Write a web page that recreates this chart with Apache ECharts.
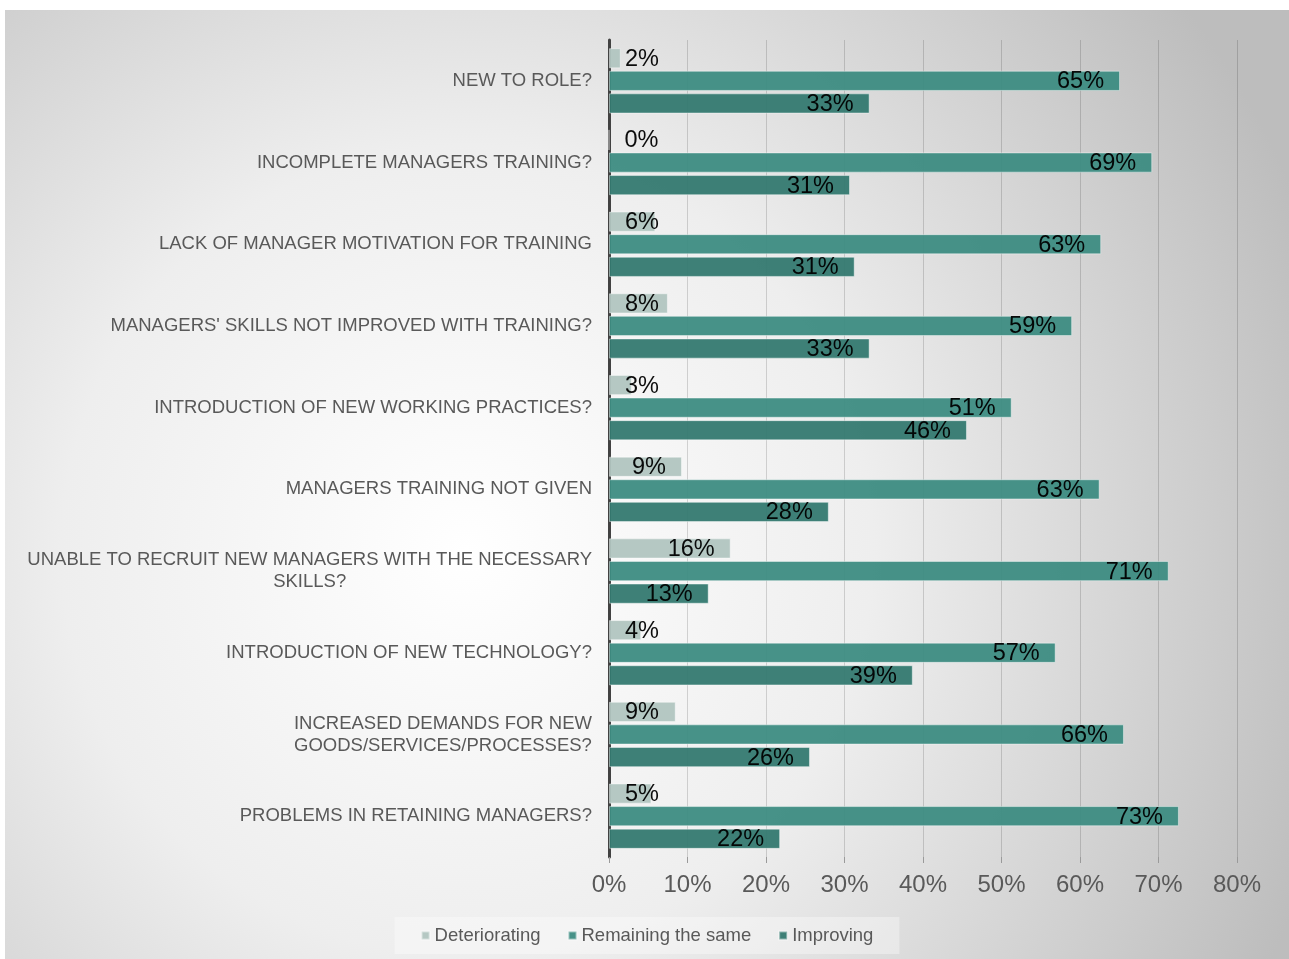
<!DOCTYPE html>
<html>
<head>
<meta charset="utf-8">
<script src="https://cdn.jsdelivr.net/npm/echarts@6/dist/echarts.min.js"></script>
<style>
html,body{margin:0;padding:0;background:#fff;}
#chart{position:absolute;left:5px;top:10px;width:1284px;height:949px;}
</style>
</head>
<body>
<div id="chart"></div>
<script>
const categories = [
  "NEW TO ROLE?",
  "INCOMPLETE MANAGERS TRAINING?",
  "LACK OF MANAGER MOTIVATION FOR TRAINING",
  "MANAGERS' SKILLS NOT IMPROVED WITH TRAINING?",
  "INTRODUCTION OF NEW WORKING PRACTICES?",
  "MANAGERS TRAINING NOT GIVEN",
  "UNABLE TO RECRUIT NEW MANAGERS WITH THE NECESSARY\nSKILLS?",
  "INTRODUCTION OF NEW TECHNOLOGY?",
  "INCREASED DEMANDS FOR NEW\nGOODS/SERVICES/PROCESSES?",
  "PROBLEMS IN RETAINING MANAGERS?"
];
const deteriorating = [1.5, 0, 5.9, 7.5, 2.9, 9.3, 15.5, 4.1, 8.5, 5.4];
const remainingSame = [65.1, 69.2, 62.7, 59.0, 51.3, 62.5, 71.3, 56.9, 65.6, 72.6];
const improving     = [33.2, 30.7, 31.3, 33.2, 45.6, 28.0, 12.7, 38.7, 25.6, 21.8];
const seriesNames = ["Deteriorating", "Remaining the same", "Improving"];
const xTicks = [0, 10, 20, 30, 40, 50, 60, 70, 80];

const FONT = "Liberation Sans, Arial, sans-serif";
const colors = ["#b1c5c0", "#3d8c82", "#347970"];

function labelFor(v) {
  const small = v < 8.8;
  return {
    show: true,
    position: small ? "insideLeft" : "insideRight",
    distance: 16,
    offset: [0, 1],
    color: "#000",
    fontSize: 23.5,
    fontFamily: FONT,
    formatter: p => Math.round(p.value) + "%"
  };
}
function makeData(arr) {
  return arr.map(v => ({ value: v, label: labelFor(v) }));
}

const chart = echarts.init(document.getElementById("chart"), null, { renderer: "canvas" });
chart.setOption({
  backgroundColor: {
    type: "radial", x: 0.36, y: 0.57, r: 0.95,
    colorStops: [
      { offset: 0, color: "#ffffff" },
      { offset: 0.45, color: "#eeeeee" },
      { offset: 1, color: "#bdbdbd" }
    ]
  },
  animation: false,
  textStyle: { fontFamily: FONT },
  grid: { left: 604, right: 52, top: 30, bottom: 102, containLabel: false },
  legend: {
    bottom: 5,
    left: "center",
    data: seriesNames,
    icon: "rect",
    itemWidth: 8,
    itemHeight: 8,
    itemGap: 27,
    padding: [9, 26, 9, 26],
    backgroundColor: "rgba(255,255,255,0.35)",
    textStyle: { color: "#595959", fontSize: 18.5, fontFamily: FONT }
  },
  xAxis: {
    type: "value",
    min: 0, max: 80, interval: 10,
    axisLabel: {
      formatter: v => v + "%",
      color: "#595959", fontSize: 24, fontFamily: FONT, margin: 16
    },
    axisLine: { show: false },
    axisTick: { show: true, length: 6, lineStyle: { color: "#9a9a9a" } },
    splitLine: { show: true, lineStyle: { color: "rgba(0,0,0,0.15)", width: 1 } }
  },
  yAxis: {
    type: "category",
    data: categories,
    inverse: true,
    axisTick: { show: false },
    axisLine: { show: true, lineStyle: { color: "#424242", width: 3 } },
    axisLabel: {
      margin: 17,
      align: "right",
      formatter: v => v.split("\n").map(l => "{c|" + l + "}").join("\n"),
      rich: {
        c: { align: "center", color: "#595959", fontSize: 18.5, fontFamily: FONT, lineHeight: 22 }
      }
    }
  },
  series: [
    { name: seriesNames[0], type: "bar", data: makeData(deteriorating) },
    { name: seriesNames[1], type: "bar", data: makeData(remainingSame) },
    { name: seriesNames[2], type: "bar", data: makeData(improving) }
  ].map((s, i) => Object.assign(s, {
    barCategoryGap: "20%",
    barGap: "12%",
    itemStyle: { color: colors[i], opacity: 0.95, borderColor: "rgba(255,255,255,0.45)", borderWidth: 1 }
  }))
});
</script>
</body>
</html>
